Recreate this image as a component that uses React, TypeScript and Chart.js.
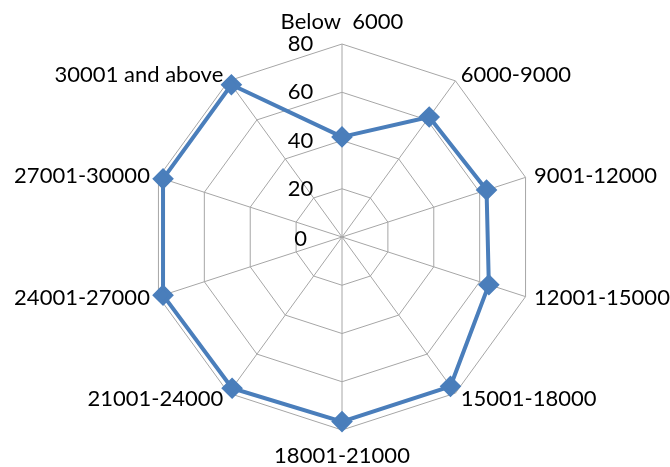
import React, { useEffect, useRef } from "react";
import { Chart, registerables, RadialLinearScale } from "chart.js";

// Radial scale whose centre and radius can be pinned to the reference layout
// (Chart.js's own label-fitting heuristic shrinks the web too much here), and whose
// side labels sit vertically centred on their spoke like in the reference.
class PinnedRadialLinearScale extends RadialLinearScale {
  static id = "pinnedRadialLinear";
  setCenterPoint(l: number, r: number, t: number, b: number) {
    const pin = (this.options as any).pin;
    if (pin) {
      this.xCenter = pin.x;
      this.yCenter = pin.y;
      this.drawingArea = pin.r;
    } else {
      super.setCenterPoint(l, r, t, b);
    }
  }
  fit() {
    super.fit();
    const shift = (this.options as any).labelShift || 0;
    const items = (this as any)._pointLabelItems;
    if (!items || !shift) return;
    items.forEach((it: any) => {
      const dy = it.y - this.yCenter;
      const dx = it.x - this.xCenter;
      if (Math.abs(dx) < 1) return; // top / bottom labels stay
      const s = dy < 0 ? shift : -shift;
      it.y += s;
      it.top += s;
      it.bottom += s;
    });
  }
}

Chart.register(...registerables, PinnedRadialLinearScale);

const categories = [
  "Below  6000",
  "6000-9000",
  "9001-12000",
  "12001-15000",
  "15001-18000",
  "18001-21000",
  "21001-24000",
  "24001-27000",
  "27001-30000",
  "30001 and above",
];
const seriesValues = [41.5, 61.5, 63, 64, 76.5, 76.5, 77.5, 78, 78, 78];
const tickMin = 0;
const tickMax = 80;
const tickStep = 20;

const PAD = "\u2003\u2003\u2003\u2003   ";
const FONT = { family: "Lato", size: 22 };

// Chart.js skips the innermost (0) tick label of a radial scale; draw it in the same style.
const zeroTickPlugin = {
  id: "zeroTick",
  afterDraw(chart: any) {
    const s = chart.scales.r;
    if (!s) return;
    const ctx = chart.ctx;
    ctx.save();
    ctx.font = `${FONT.size}px ${FONT.family}`;
    ctx.fillStyle = "#000";
    ctx.textAlign = "center";
    ctx.textBaseline = "middle";
    const d = s.getDistanceFromCenterForValue(tickMin);
    ctx.fillText(String(tickMin) + PAD, s.xCenter, s.yCenter - d + 2);
    ctx.restore();
  },
};

export default function App() {
  const ref = useRef<HTMLCanvasElement>(null);
  useEffect(() => {
    if (!ref.current) return;
    const chart = new Chart(ref.current, {
      type: "radar",
      data: {
        labels: categories,
        datasets: [
          {
            data: seriesValues,
            borderColor: "#4a7ebb",
            backgroundColor: "#4a7ebb",
            borderWidth: 4,
            fill: false,
            pointStyle: "rectRot",
            pointRadius: 8,
            pointBackgroundColor: "#4a7ebb",
            pointBorderColor: "#4a7ebb",
          },
        ],
      },
      options: {
        responsive: false,
        animation: false,
        plugins: { legend: { display: false }, tooltip: { enabled: false } },
        scales: {
          r: {
            type: "pinnedRadialLinear",
            pin: { x: 342, y: 237, r: 193 },
            labelShift: 15,
            min: tickMin,
            max: tickMax,
            ticks: {
              stepSize: tickStep,
              showLabelBackdrop: false,
              color: "#000",
              font: FONT,
              callback: (v: any) => String(v) + PAD,
            },
            grid: { color: "#a6a6a6", lineWidth: 1 },
            angleLines: { color: "#a6a6a6", lineWidth: 1 },
            pointLabels: {
              color: "#000",
              font: FONT,
              padding: (ctx: any) => (ctx.index === 5 ? 0 : -4),
            },
          } as any,
        },
      },
      plugins: [zeroTickPlugin],
    });
    return () => chart.destroy();
  }, []);
  return (
    <div style={{ position: "absolute", left: 0, top: 0, width: 670, height: 467, background: "#fff" }}>
      <canvas ref={ref} width={670} height={467} />
    </div>
  );
}
